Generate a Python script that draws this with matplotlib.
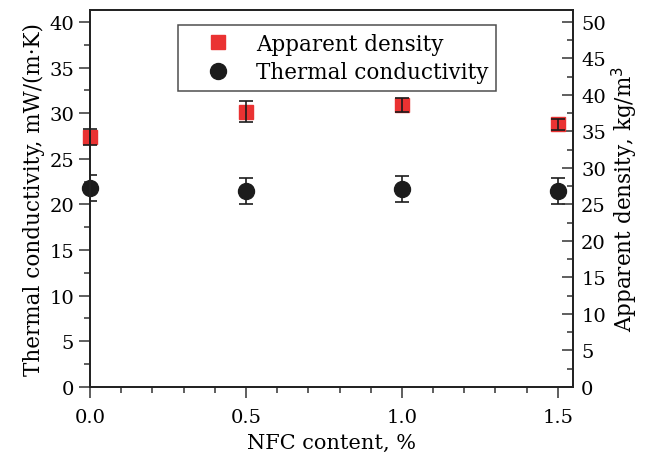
import matplotlib.pyplot as plt
from matplotlib.ticker import MultipleLocator

nfc = [0.0, 0.5, 1.0, 1.5]
conductivity = [21.8, 21.5, 21.7, 21.5]
conductivity_err = [1.4, 1.4, 1.4, 1.4]
density = [34.2, 37.7, 38.6, 36.0]
density_err = [1.1, 1.4, 1.0, 0.75]

plt.rcParams['font.family'] = ['DejaVu Serif']
plt.rcParams['font.size'] = 14

fig = plt.figure(figsize=(6.48, 4.64), dpi=100)
ax = fig.add_axes([0.139, 0.164, 0.745, 0.812])
ax2 = ax.twinx()

# Thermal conductivity on the left axis
tc, = ax.plot(nfc, conductivity, 'o', color='#1c1c1c', markersize=11.5,
              label='Thermal conductivity', zorder=3, clip_on=False)
ax.errorbar(nfc, conductivity, yerr=conductivity_err, fmt='none',
            ecolor='#1c1c1c', elinewidth=1.2, capsize=5, capthick=1.2, zorder=2)

# Apparent density on the right axis
ad, = ax2.plot(nfc, density, 's', color='#ea3232', markersize=10,
               label='Apparent density', zorder=2, clip_on=False)
eb = ax2.errorbar(nfc, density, yerr=density_err, fmt='none',
                  ecolor='#1c1c1c', elinewidth=1.2, capsize=5, capthick=1.2, zorder=3)
for part in eb.lines[1] + eb.lines[2]:
    part.set_clip_on(False)

ax.set_xlim(0, 1.548)
ax.set_ylim(0, 41.3)
ax2.set_ylim(0, 51.6)

ax.xaxis.set_major_locator(MultipleLocator(0.5))
ax.xaxis.set_minor_locator(MultipleLocator(0.1))
ax.yaxis.set_major_locator(MultipleLocator(5))
ax.yaxis.set_minor_locator(MultipleLocator(2.5))
ax2.yaxis.set_major_locator(MultipleLocator(5))
ax2.yaxis.set_minor_locator(MultipleLocator(2.5))
ax.xaxis.set_major_formatter(lambda v, p: f'{v:.1f}')

ax.tick_params(axis='both', which='major', direction='out', length=8, width=1.1, color='#333333')
ax.tick_params(axis='both', which='minor', direction='out', length=4, width=1.1, color='#333333')
ax.tick_params(top=False, right=False, which='both')
ax.tick_params(axis='x', pad=7)
ax2.tick_params(axis='y', which='major', direction='in', length=8, width=1.1, color='#333333', pad=6)
ax2.tick_params(axis='y', which='minor', direction='in', length=4, width=1.1, color='#333333')

for a in (ax, ax2):
    for s in a.spines.values():
        s.set_linewidth(1.3)
        s.set_color('#222222')

ax.set_xlabel('NFC content, %', fontsize=15, labelpad=5)
ax.set_ylabel('Thermal conductivity, mW/(m·K)', fontsize=15.5, labelpad=3)
ax2.set_ylabel('Apparent density, kg/m$^3$', fontsize=15.5, labelpad=3)

leg = ax2.legend(handles=[ad, tc], loc='upper left', bbox_to_anchor=(0.183, 0.96),
                 frameon=True, fancybox=False, edgecolor='#222222', fontsize=15.5,
                 handletextpad=0.25, borderpad=0.35, labelspacing=0.3,
                 handlelength=3.0, borderaxespad=0)
leg.get_frame().set_linewidth(1.1)

fig.savefig('out.png', dpi=100)
